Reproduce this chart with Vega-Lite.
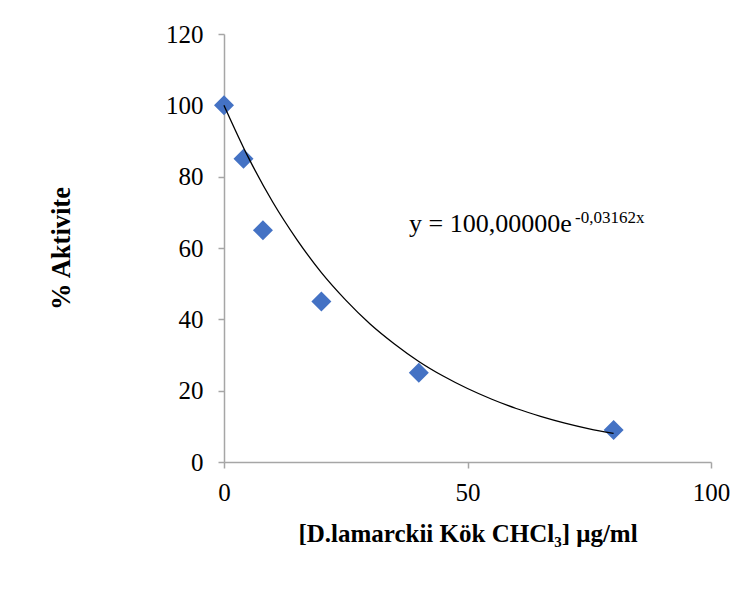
{
  "$schema": "https://vega.github.io/schema/vega-lite/v6.json",
  "width": 487,
  "height": 428,
  "autosize": {"type": "none"},
  "padding": {"left": 224, "top": 34, "right": 45, "bottom": 145},
  "background": "white",
  "config": {
    "view": {"stroke": null},
    "font": "Liberation Serif",
    "axis": {
      "grid": false,
      "domainColor": "#a6a6a6",
      "domainWidth": 1.5,
      "tickColor": "#a6a6a6",
      "tickWidth": 1.5,
      "tickSize": 6,
      "labelFont": "Liberation Serif",
      "labelFontSize": 25,
      "labelColor": "#000000",
      "titleFont": "Liberation Serif",
      "titleFontSize": 25,
      "titleFontWeight": "bold",
      "titleColor": "#000000"
    }
  },
  "datasets": {
    "points": [
      {"conc": 0, "act": 100},
      {"conc": 4, "act": 85},
      {"conc": 8, "act": 65},
      {"conc": 20, "act": 45},
      {"conc": 40, "act": 25},
      {"conc": 80, "act": 9}
    ],
    "trend": [
      {"conc": 0, "act": 100},
      {"conc": 5, "act": 85.4},
      {"conc": 10, "act": 72.9},
      {"conc": 15, "act": 62.3},
      {"conc": 20, "act": 53.1},
      {"conc": 25, "act": 45.4},
      {"conc": 30, "act": 38.7},
      {"conc": 35, "act": 33.1},
      {"conc": 40, "act": 28.2},
      {"conc": 45, "act": 24.1},
      {"conc": 50, "act": 20.6},
      {"conc": 55, "act": 17.6},
      {"conc": 60, "act": 15.0},
      {"conc": 65, "act": 12.8},
      {"conc": 70, "act": 10.9},
      {"conc": 75, "act": 9.3},
      {"conc": 80, "act": 8.0}
    ]
  },
  "layer": [
    {
      "data": {"name": "points"},
      "mark": {"type": "point", "shape": "diamond", "filled": true, "size": 400, "color": "#4472C4", "opacity": 1},
      "encoding": {
        "x": {
          "field": "conc", "type": "quantitative",
          "scale": {"domain": [0, 100], "nice": false},
          "axis": {"values": [0, 50, 100], "labelPadding": 12, "title": "[D.lamarckii Kök CHCl₃] μg/ml", "titlePadding": 16, "titleFontSize": 25, "labelFlush": false}
        },
        "y": {
          "field": "act", "type": "quantitative",
          "scale": {"domain": [0, 120], "nice": false},
          "axis": {"values": [0, 20, 40, 60, 80, 100, 120], "labelPadding": 15, "title": "% Aktivite", "titlePadding": 90, "titleFontSize": 26.5, "labelFlush": false}
        }
      }
    },
    {
      "data": {"name": "trend"},
      "mark": {"type": "line", "color": "#000000", "strokeWidth": 1.3, "interpolate": "monotone"},
      "encoding": {
        "x": {"field": "conc", "type": "quantitative"},
        "y": {"field": "act", "type": "quantitative"}
      }
    },
    {
      "data": {"values": [{"t": "y = 100,00000e"}]},
      "mark": {"type": "text", "align": "left", "baseline": "alphabetic", "fontSize": 26, "font": "Liberation Serif", "color": "#000000"},
      "encoding": {
        "x": {"datum": 38.0},
        "y": {"datum": 64.5},
        "text": {"field": "t"}
      }
    },
    {
      "data": {"values": [{"t": "-0,03162x"}]},
      "mark": {"type": "text", "align": "left", "baseline": "alphabetic", "fontSize": 17, "font": "Liberation Serif", "color": "#000000", "dx": 166, "dy": -9},
      "encoding": {
        "x": {"datum": 38.0},
        "y": {"datum": 64.5},
        "text": {"field": "t"}
      }
    }
  ]
}
